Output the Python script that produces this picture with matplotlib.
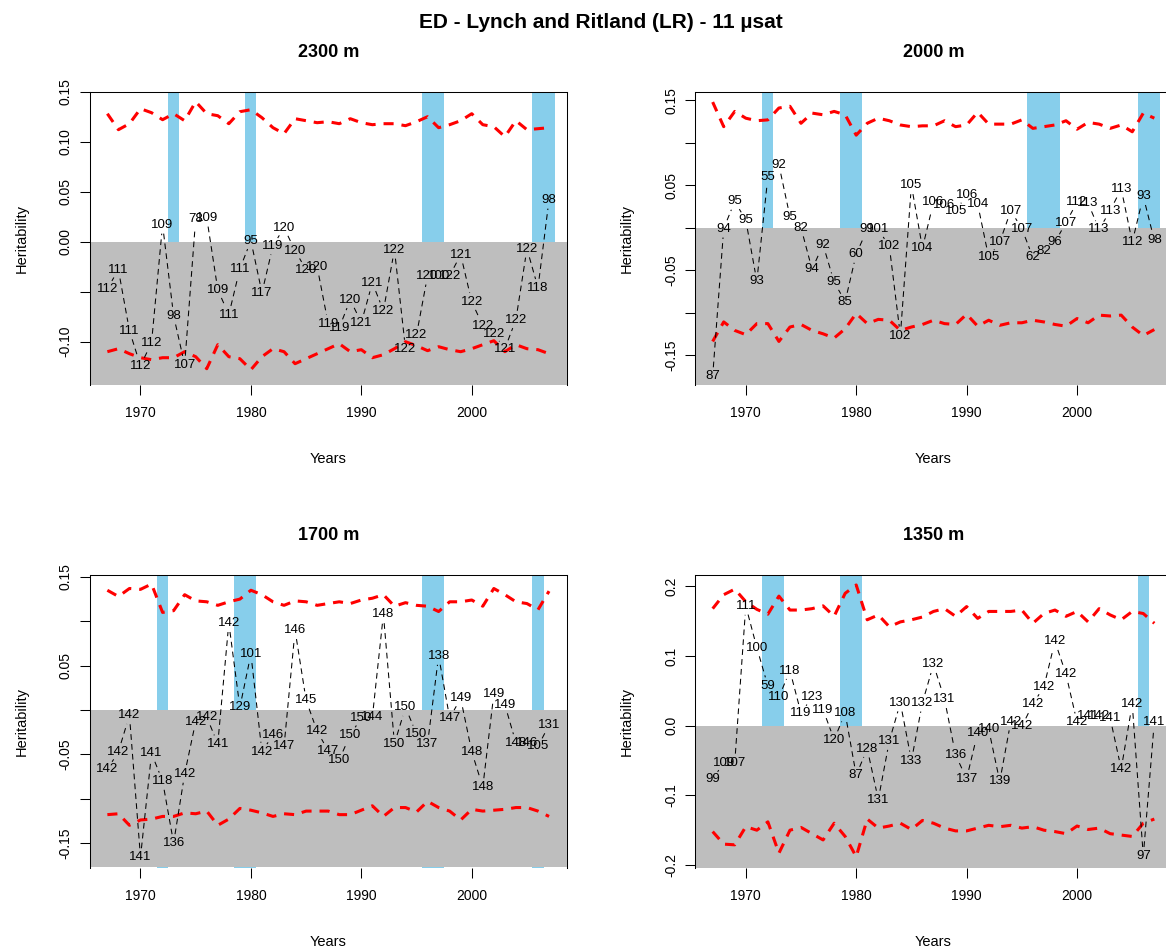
import matplotlib
matplotlib.use('Agg')
import matplotlib.pyplot as plt
import numpy as np

plt.rcParams['font.family'] = ['Liberation Sans', 'DejaVu Sans']

W, H = 1166, 949
years = list(range(1967, 2008))

# ---- 2300 m ----
n_2300 = [112, 111, 111, 112, 112, 109, 98, 107, 78, 109, 109, 111, 111, 95,
          117, 119, 120, 120, 120, 120, 119, 119, 120, 121, 121, 122, 122, 122,
          122, 120, 100, 122, 121, 122, 122, 122, 121, 122, 122, 118, 98]
h_2300 = [-0.047, -0.028, -0.089, -0.124, -0.101, 0.017, -0.074, -0.123, 0.023, 0.024,
          -0.048, -0.073, -0.027, 0.001, -0.051, -0.004, 0.014, -0.009, -0.028, -0.025,
          -0.082, -0.086, -0.058, -0.081, -0.041, -0.069, -0.008, -0.107, -0.093, -0.034,
          -0.034, -0.034, -0.013, -0.060, -0.084, -0.092, -0.107, -0.078, -0.007, -0.046, 0.042]
up_2300 = [0.128, 0.112, 0.118, 0.133, 0.129, 0.122, 0.128, 0.121, 0.140, 0.128,
           0.126, 0.118, 0.130, 0.132, 0.124, 0.114, 0.108, 0.123, 0.121, 0.119,
           0.120, 0.118, 0.123, 0.119, 0.117, 0.118, 0.118, 0.116, 0.120, 0.125,
           0.114, 0.117, 0.121, 0.128, 0.117, 0.115, 0.105, 0.121, 0.112, 0.113, 0.114]
lo_2300 = [-0.110, -0.107, -0.112, -0.116, -0.118, -0.116, -0.116, -0.110, -0.115, -0.127,
           -0.103, -0.115, -0.117, -0.128, -0.115, -0.107, -0.110, -0.122, -0.117, -0.112,
           -0.107, -0.102, -0.110, -0.108, -0.116, -0.113, -0.107, -0.100, -0.104, -0.109,
           -0.105, -0.108, -0.110, -0.107, -0.103, -0.099, -0.110, -0.103, -0.107, -0.108, -0.112]
bars_2300 = [(1973, 1973), (1980, 1980), (1996, 1997), (2006, 2007)]

# ---- 2000 m ----
n_2000 = [87, 94, 95, 95, 93, 55, 92, 95, 82, 94, 92, 95, 85, 60,
          99, 101, 102, 102, 105, 104, 106, 106, 105, 106, 104, 105, 107, 107,
          107, 62, 82, 96, 107, 112, 113, 113, 113, 113, 112, 93, 98]
h_2000 = [-0.175, -0.001, 0.031, 0.009, -0.063, 0.060, 0.074, 0.013, 0.000, -0.049,
          -0.020, -0.064, -0.087, -0.031, -0.002, -0.002, -0.022, -0.127, 0.050, -0.024,
          0.030, 0.027, 0.020, 0.038, 0.028, -0.035, -0.017, 0.020, -0.001, -0.035,
          -0.028, -0.017, 0.006, 0.030, 0.029, -0.002, 0.020, 0.046, -0.017, 0.037, -0.015]
up_2000 = [0.148, 0.119, 0.137, 0.129, 0.126, 0.127, 0.141, 0.143, 0.123, 0.135,
           0.133, 0.137, 0.133, 0.109, 0.123, 0.129, 0.126, 0.121, 0.119, 0.120,
           0.120, 0.126, 0.119, 0.121, 0.136, 0.122, 0.122, 0.122, 0.127, 0.117,
           0.119, 0.121, 0.126, 0.116, 0.124, 0.122, 0.117, 0.121, 0.113, 0.135, 0.129]
lo_2000 = [-0.134, -0.111, -0.121, -0.126, -0.113, -0.113, -0.134, -0.117, -0.114, -0.121,
           -0.125, -0.130, -0.119, -0.101, -0.113, -0.108, -0.109, -0.121, -0.117, -0.114,
           -0.109, -0.113, -0.114, -0.102, -0.116, -0.109, -0.115, -0.112, -0.112, -0.109,
           -0.111, -0.114, -0.116, -0.107, -0.112, -0.103, -0.104, -0.103, -0.117, -0.127, -0.120]
bars_2000 = [(1972, 1972), (1979, 1980), (1996, 1998), (2006, 2007)]

# ---- 1700 m ----
n_1700 = [142, 142, 142, 141, 141, 118, 136, 142, 142, 142, 141, 142, 129, 101,
          142, 146, 147, 146, 145, 142, 147, 150, 150, 150, 144, 148, 150, 150,
          150, 137, 138, 147, 149, 148, 148, 149, 149, 148, 146, 105, 131]
h_1700 = [-0.067, -0.047, -0.006, -0.166, -0.049, -0.080, -0.150, -0.072, -0.013, -0.008,
          -0.038, 0.098, 0.003, 0.063, -0.047, -0.028, -0.041, 0.090, 0.011, -0.024,
          -0.046, -0.056, -0.028, -0.009, -0.008, 0.108, -0.038, 0.003, -0.027, -0.038,
          0.061, -0.009, 0.013, -0.047, -0.087, 0.018, 0.006, -0.037, -0.037, -0.041, -0.017]
up_1700 = [0.135, 0.128, 0.137, 0.136, 0.142, 0.110, 0.112, 0.130, 0.123, 0.122,
           0.118, 0.122, 0.125, 0.135, 0.130, 0.122, 0.118, 0.123, 0.122, 0.118,
           0.120, 0.122, 0.120, 0.124, 0.126, 0.130, 0.117, 0.121, 0.118, 0.117,
           0.111, 0.122, 0.122, 0.124, 0.117, 0.137, 0.130, 0.122, 0.120, 0.113, 0.134]
lo_1700 = [-0.118, -0.117, -0.130, -0.124, -0.123, -0.120, -0.120, -0.116, -0.117, -0.114,
           -0.130, -0.123, -0.111, -0.113, -0.116, -0.120, -0.117, -0.118, -0.114, -0.114,
           -0.114, -0.118, -0.118, -0.113, -0.108, -0.120, -0.110, -0.110, -0.115, -0.103,
           -0.110, -0.114, -0.124, -0.112, -0.114, -0.113, -0.112, -0.110, -0.110, -0.114, -0.120]
bars_1700 = [(1972, 1972), (1979, 1980), (1996, 1997), (2006, 2006)]

# ---- 1350 m ----
n_1350 = [99, 109, 107, 111, 100, 59, 110, 118, 119, 123, 119, 120, 108, 87,
          128, 131, 131, 130, 133, 132, 132, 131, 136, 137, 140, 140, 139, 142,
          142, 142, 142, 142, 142, 142, 141, 142, 141, 142, 142, 97, 141]
h_1350 = [-0.077, -0.053, -0.053, 0.172, 0.112, 0.057, 0.041, 0.079, 0.018, 0.041,
          0.023, -0.020, 0.018, -0.071, -0.033, -0.106, -0.022, 0.033, -0.050, 0.033,
          0.088, 0.038, -0.042, -0.076, -0.010, -0.005, -0.080, 0.006, -0.001, 0.031,
          0.056, 0.121, 0.074, 0.005, 0.014, 0.014, 0.011, -0.062, 0.031, -0.187, 0.006]
up_1350 = [0.168, 0.188, 0.196, 0.178, 0.167, 0.160, 0.186, 0.166, 0.166, 0.168,
           0.172, 0.157, 0.190, 0.202, 0.152, 0.159, 0.142, 0.149, 0.152, 0.156,
           0.164, 0.168, 0.157, 0.171, 0.154, 0.164, 0.164, 0.164, 0.166, 0.147,
           0.161, 0.166, 0.157, 0.164, 0.149, 0.168, 0.159, 0.152, 0.164, 0.161, 0.147]
lo_1350 = [-0.152, -0.170, -0.171, -0.145, -0.150, -0.138, -0.183, -0.150, -0.146, -0.155,
           -0.164, -0.140, -0.159, -0.188, -0.134, -0.147, -0.144, -0.140, -0.149, -0.136,
           -0.140, -0.147, -0.151, -0.151, -0.147, -0.143, -0.145, -0.143, -0.147, -0.145,
           -0.150, -0.152, -0.155, -0.144, -0.149, -0.147, -0.155, -0.157, -0.159, -0.140, -0.134]
bars_1350 = [(1972, 1973), (1979, 1980), (2006, 2006)]

# panel layout: box in pixels (left, top, right, bottom), y limits, y ticks
panels = [
    dict(title='2300 m', n=n_2300, h=h_2300, up=up_2300, lo=lo_2300, bars=bars_2300,
         box=(89.7, 91.7, 566.7, 385), ylim=(-0.1433, 0.150), gray=-0.1433,
         yt=[-0.10, -0.05, 0.0, 0.05, 0.10, 0.15],
         ytl=['-0.10', '', '0.00', '0.05', '0.10', '0.15']),
    dict(title='2000 m', n=n_2000, h=h_2000, up=up_2000, lo=lo_2000, bars=bars_2000,
         box=(695, 91.7, 1172, 385), ylim=(-0.1853, 0.1602), gray=-0.1853,
         yt=[-0.15, -0.10, -0.05, 0.0, 0.05, 0.10, 0.15],
         ytl=['-0.15', '', '-0.05', '', '0.05', '', '0.15']),
    dict(title='1700 m', n=n_1700, h=h_1700, up=up_1700, lo=lo_1700, bars=bars_1700,
         box=(89.7, 575, 566.7, 868.3), ylim=(-0.1785, 0.1522), gray=-0.1767,
         yt=[-0.15, -0.10, -0.05, 0.0, 0.05, 0.10, 0.15],
         ytl=['-0.15', '', '-0.05', '', '0.05', '', '0.15']),
    dict(title='1350 m', n=n_1350, h=h_1350, up=up_1350, lo=lo_1350, bars=bars_1350,
         box=(695, 575, 1172, 868.3), ylim=(-0.2047, 0.2163), gray=-0.2038,
         yt=[-0.2, -0.1, 0.0, 0.1, 0.2],
         ytl=['-0.2', '-0.1', '0.0', '0.1', '0.2']),
]

fig = plt.figure(figsize=(W / 100, H / 100), dpi=100)
gap = 9  # pixels left free around each label

for p in panels:
    l, t, r, b = p['box']
    ax = fig.add_axes([l / W, 1 - b / H, (r - l) / W, (b - t) / H])
    ax.set_xlim(1965.4, 2008.6)
    ax.set_ylim(*p['ylim'])
    ax.set_facecolor('white')

    for a, z in p['bars']:
        ax.axvspan(a - 0.5, z + 0.5, color='#87CEEB', lw=0, zorder=1)
    ax.axhspan(p['gray'], 0, color='#BEBEBE', lw=0, zorder=2.6)

    ax.plot(years, p['up'], color='red', lw=2.2, dashes=(3.3, 2.6), zorder=4)
    ax.plot(years, p['lo'], color='red', lw=2.2, dashes=(3.3, 2.6), zorder=4)

    # dashed line between labels, with gaps like R's type="b"
    pts = ax.transData.transform(np.column_stack([years, p['h']]))
    for i in range(len(pts) - 1):
        p0, p1 = pts[i], pts[i + 1]
        d = p1 - p0
        L = np.hypot(*d)
        if L <= 2 * gap:
            continue
        u = d / L
        seg = ax.transData.inverted().transform([p0 + u * gap, p1 - u * gap])
        ax.plot(seg[:, 0], seg[:, 1], color='black', lw=0.75, dashes=(5.5, 4), zorder=4)
    for x, y, s in zip(years, p['h'], p['n']):
        ax.text(x, y, str(s), ha='center', va='center', fontsize=9.5, zorder=5)

    ax.set_xticks([1970, 1980, 1990, 2000])
    ax.set_yticks(p['yt'])
    ax.set_yticklabels(p['ytl'], rotation=90, va='center')
    ax.tick_params(direction='out', length=7.2, width=0.75, labelsize=10, pad=8)
    ax.tick_params(axis='y', pad=5)
    ax.spines['bottom'].set_visible(False)
    for s in ['left', 'top', 'right']:
        ax.spines[s].set_linewidth(0.75)
    ax.spines['left'].set_zorder(3)
    ax.spines['top'].set_zorder(3)
    ax.spines['right'].set_zorder(2.5)

    cx = (l + r) / 2
    cy = (t + b) / 2
    fig.text(cx / W, 1 - (t - 39) / H, p['title'], ha='center', va='center',
             fontsize=13, fontweight='bold')
    fig.text(cx / W, 1 - (b + 74) / H, 'Years', ha='center', va='center', fontsize=10.5)
    fig.text((l - 68) / W, 1 - cy / H, 'Heritability', ha='center', va='center',
             rotation=90, fontsize=10.5)

fig.text(601 / W, 1 - 22 / H, 'ED - Lynch and Ritland (LR) - 11 µsat', ha='center',
         va='center', fontsize=15, fontweight='bold')

fig.savefig('out.png', dpi=100)
